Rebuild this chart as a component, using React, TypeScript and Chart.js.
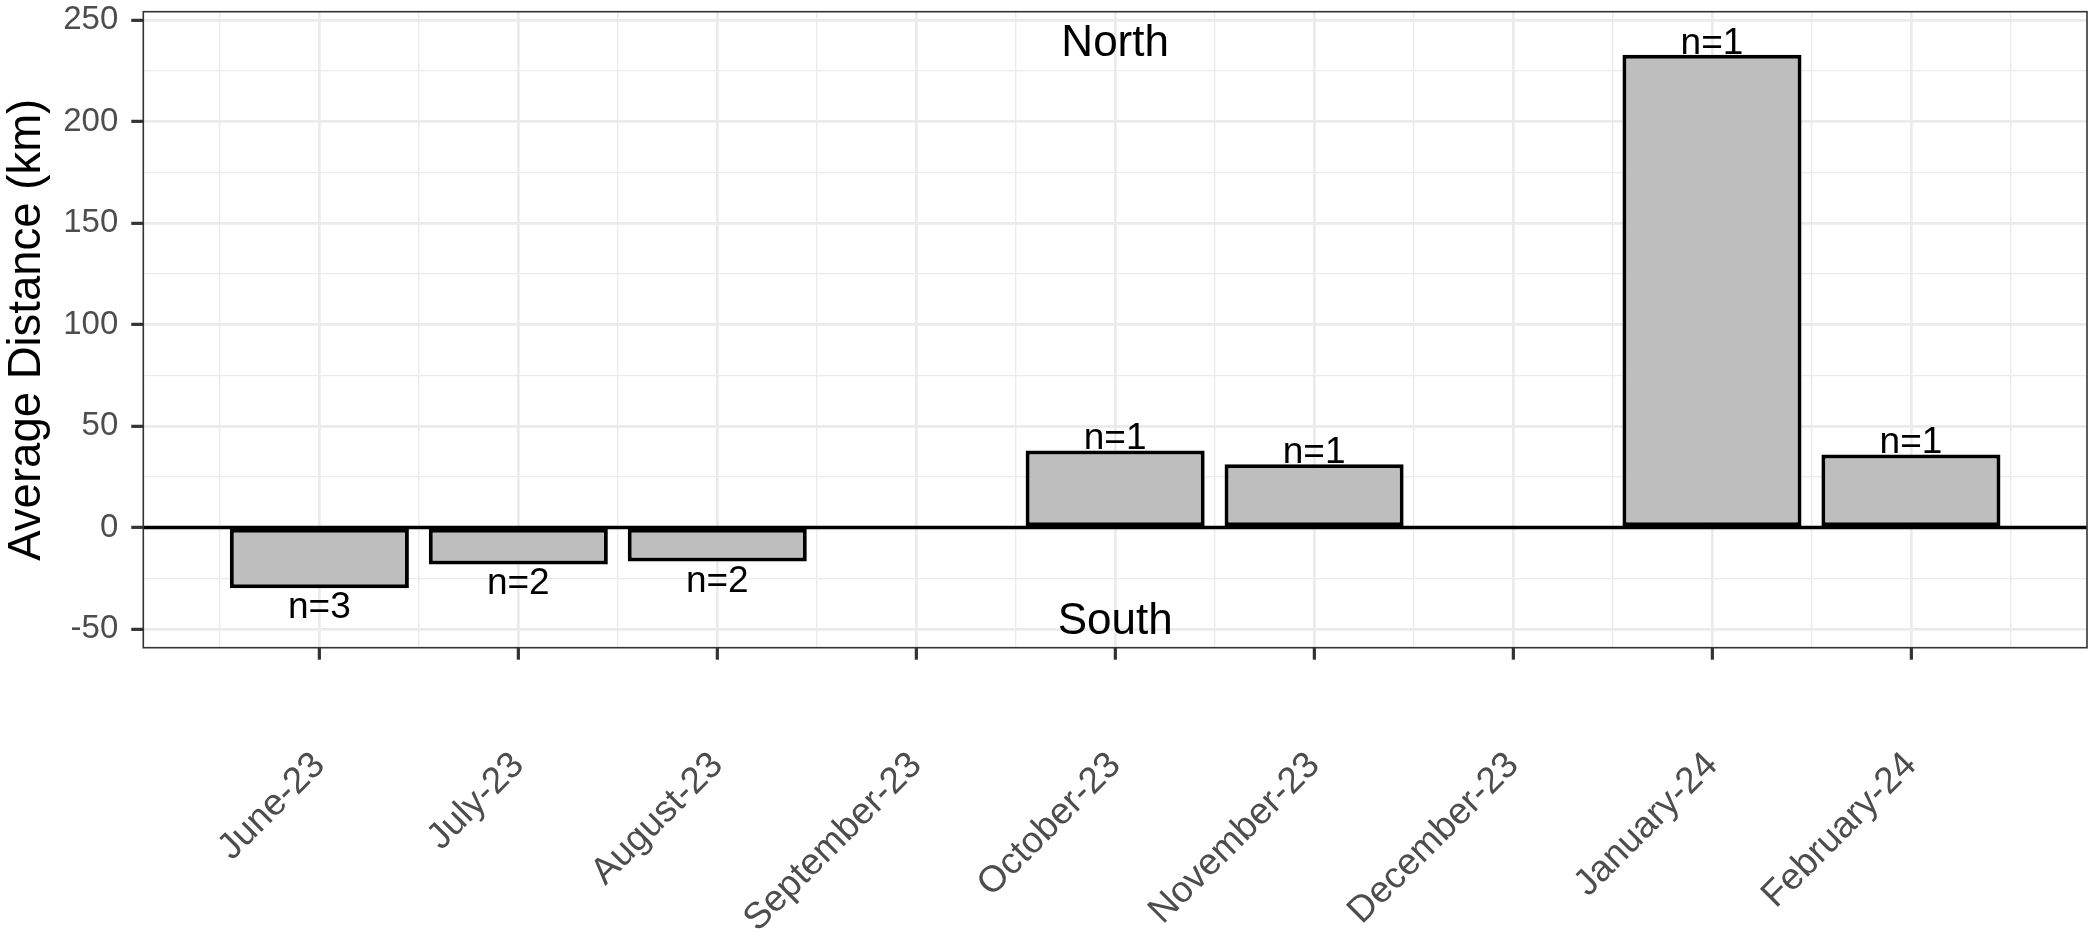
import { useEffect, useRef } from 'react'
import Chart from 'chart.js/auto'

// months on the x axis, one bar each (null = no fish tracked that month)
const months = [
  'June-23',
  'July-23',
  'August-23',
  'September-23',
  'October-23',
  'November-23',
  'December-23',
  'January-24',
  'February-24',
]
const avgDistance: (number | null)[] = [-30, -18.2, -16.8, null, 38, 31.2, null, 233, 36]
const counts: (number | null)[] = [3, 2, 2, null, 1, 1, null, 1, 1]

// grid positions: whole numbers are month ticks, halves are minor lines
const xTicks = [-0.5, 0, 0.5, 1, 1.5, 2, 2.5, 3, 3.5, 4, 4.5, 5, 5.5, 6, 6.5, 7, 7.5, 8, 8.5]
const yTicks = [-50, -25, 0, 25, 50, 75, 100, 125, 150, 175, 200, 225, 250]
const yLabelTicks = [-50, 0, 50, 100, 150, 200, 250]

const noteLabels = ['North', 'South']
const noteMonth = [4, 4]
const noteValues = [240, -45]

const FONT = '"Liberation Sans", Arial, sans-serif'

const overlay = {
  id: 'overlay',
  afterDatasetsDraw(chart: Chart) {
    const { ctx, chartArea: a } = chart
    const x = chart.scales.x
    const y = chart.scales.y
    ctx.save()

    // zero line
    const y0 = y.getPixelForValue(0)
    ctx.strokeStyle = '#000'
    ctx.lineWidth = 3.5
    ctx.beginPath()
    ctx.moveTo(a.left, y0)
    ctx.lineTo(a.right, y0)
    ctx.stroke()

    // n= labels at the bar ends
    ctx.fillStyle = '#000'
    ctx.textAlign = 'center'
    ctx.textBaseline = 'alphabetic'
    ctx.font = `37px ${FONT}`
    chart.getDatasetMeta(0).data.forEach((bar: any, i: number) => {
      const v = avgDistance[i]
      if (v == null || counts[i] == null) return
      const ty = v >= 0 ? bar.y - 1 : bar.y + 30
      ctx.fillText(`n=${counts[i]}`, bar.x, ty)
    })

    // North / South notes
    ctx.font = `44px ${FONT}`
    noteLabels.forEach((t, i) => {
      const px = x.getPixelForValue(noteMonth[i])
      const py = y.getPixelForValue(noteValues[i])
      ctx.fillText(t, px, py + 15.7)
    })

    // panel border
    ctx.strokeStyle = '#333333'
    ctx.lineWidth = 1.6
    ctx.strokeRect(a.left, a.top, a.right - a.left, a.bottom - a.top)
    ctx.restore()
  },
}

export default function App() {
  const canvasRef = useRef<HTMLCanvasElement>(null)
  const chartRef = useRef<Chart | null>(null)

  useEffect(() => {
    if (!canvasRef.current) return
    if (chartRef.current) chartRef.current.destroy()

    const points = avgDistance.map((v, i) => ({ x: i, y: v }))

    chartRef.current = new Chart(canvasRef.current, {
      type: 'bar',
      data: {
        datasets: [
          {
            data: points as any,
            backgroundColor: '#bebebe',
            borderColor: '#000',
            borderWidth: 4,
            borderSkipped: false,
            // the half-step minor ticks halve the sample size, so 1.8 = 90% of a month
            categoryPercentage: 1.8,
            barPercentage: 1,
          },
        ],
      },
      options: {
        animation: false,
        responsive: true,
        maintainAspectRatio: false,
        layout: { padding: { top: 11.7, right: 11, left: 0, bottom: 0 } },
        plugins: { legend: { display: false }, tooltip: { enabled: false } },
        scales: {
          x: {
            type: 'linear',
            min: -0.885,
            max: 8.885,
            offset: false,
            afterBuildTicks: (s: any) => {
              s.ticks = xTicks.map((value) => ({ value }))
            },
            afterFit: (s: any) => {
              s.height = 293.3
              s.paddingLeft = 0
              s.paddingRight = 0
            },
            border: { display: false },
            grid: {
              offset: false,
              color: '#ebebeb',
              lineWidth: (c: any) => (Number.isInteger(c.tick?.value) ? 2.7 : 1.35),
              drawTicks: true,
              tickLength: 12,
              tickWidth: 3.2,
              tickColor: (c: any) => (Number.isInteger(c.tick?.value) ? '#333333' : 'rgba(0,0,0,0)'),
            },
            ticks: {
              autoSkip: false,
              minRotation: 45,
              maxRotation: 45,
              padding: 84,
              color: '#4d4d4d',
              font: { family: FONT, size: 37 },
              callback: (v: any) => (Number.isInteger(v) ? months[v] : ''),
            },
          },
          y: {
            type: 'linear',
            min: -59.25,
            max: 254.25,
            afterBuildTicks: (s: any) => {
              s.ticks = yTicks.map((value) => ({ value }))
            },
            afterFit: (s: any) => {
              s.width = 143.3
              s.paddingTop = 0
              s.paddingBottom = 0
            },
            border: { display: false },
            grid: {
              color: '#ebebeb',
              lineWidth: (c: any) => (yLabelTicks.includes(c.tick?.value) ? 2.7 : 1.35),
              drawTicks: true,
              tickLength: 12,
              tickWidth: 3.2,
              tickColor: (c: any) => (yLabelTicks.includes(c.tick?.value) ? '#333333' : 'rgba(0,0,0,0)'),
            },
            ticks: {
              autoSkip: false,
              padding: 13,
              color: '#4d4d4d',
              font: { family: FONT, size: 33 },
              callback: (v: any) => (yLabelTicks.includes(v) ? String(v) : ''),
            },
            title: {
              display: true,
              text: 'Average Distance (km)',
              color: '#000',
              font: { family: FONT, size: 45.5 },
              padding: { top: 0, bottom: 0 },
            },
          },
        },
      },
      plugins: [overlay],
    })

    return () => {
      chartRef.current?.destroy()
      chartRef.current = null
    }
  }, [])

  return (
    <div style={{ position: 'absolute', left: 0, top: 0, width: 2098, height: 941, background: '#fff' }}>
      <canvas ref={canvasRef} />
    </div>
  )
}
